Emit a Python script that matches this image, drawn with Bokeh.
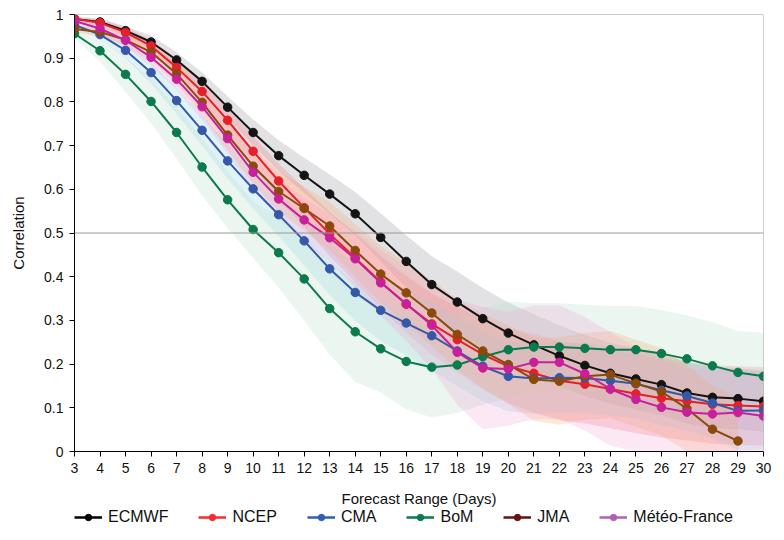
from bokeh.plotting import figure
from bokeh.layouts import column
from bokeh.models import Span, Legend, LegendItem, FixedTicker, ColumnDataSource
from bokeh.embed import file_html
from bokeh.resources import INLINE

days = list(range(3, 31))
jma_days = list(range(3, 30))

ecmwf = [0.990,0.983,0.963,0.937,0.896,0.847,0.788,0.730,0.677,0.632,0.589,0.544,0.490,0.435,0.382,0.342,0.304,0.271,0.244,0.219,0.197,0.179,0.166,0.153,0.134,0.124,0.121,0.115]
ncep = [0.990,0.981,0.959,0.928,0.879,0.824,0.758,0.687,0.619,0.558,0.498,0.443,0.388,0.337,0.292,0.256,0.222,0.195,0.179,0.162,0.154,0.143,0.132,0.122,0.115,0.108,0.105,0.103]
cma = [0.976,0.954,0.918,0.867,0.803,0.735,0.665,0.601,0.542,0.482,0.418,0.364,0.323,0.294,0.265,0.230,0.195,0.172,0.167,0.169,0.168,0.162,0.155,0.140,0.127,0.111,0.093,0.094]
bom = [0.956,0.917,0.863,0.801,0.730,0.651,0.576,0.508,0.455,0.395,0.327,0.274,0.235,0.206,0.193,0.198,0.217,0.233,0.239,0.239,0.236,0.233,0.233,0.224,0.212,0.196,0.181,0.172]
jma = [0.967,0.960,0.942,0.914,0.864,0.799,0.724,0.653,0.595,0.556,0.516,0.460,0.406,0.363,0.317,0.268,0.230,0.199,0.165,0.161,0.172,0.176,0.156,0.137,0.098,0.051,0.024]
mf = [0.985,0.968,0.941,0.902,0.852,0.789,0.716,0.639,0.578,0.530,0.489,0.441,0.386,0.338,0.289,0.227,0.191,0.189,0.204,0.204,0.178,0.143,0.119,0.101,0.090,0.086,0.089,0.081]

ecmwf_hi = [0.995,0.991,0.973,0.952,0.914,0.867,0.813,0.760,0.712,0.672,0.634,0.594,0.545,0.495,0.447,0.412,0.374,0.341,0.314,0.289,0.267,0.249,0.236,0.223,0.204,0.194,0.191,0.185]
ecmwf_lo = [0.985,0.975,0.953,0.922,0.878,0.827,0.763,0.700,0.642,0.592,0.544,0.494,0.435,0.375,0.317,0.272,0.234,0.201,0.174,0.149,0.127,0.109,0.096,0.083,0.064,0.054,0.051,0.045]
ncep_hi = [0.995,0.989,0.971,0.943,0.899,0.849,0.788,0.722,0.659,0.603,0.548,0.498,0.448,0.402,0.362,0.331,0.302,0.280,0.269,0.252,0.244,0.233,0.222,0.212,0.205,0.198,0.195,0.193]
ncep_lo = [0.985,0.973,0.947,0.913,0.859,0.799,0.728,0.652,0.579,0.513,0.448,0.388,0.328,0.272,0.222,0.181,0.142,0.110,0.089,0.072,0.064,0.053,0.042,0.032,0.025,0.018,0.015,0.013]
cma_hi = [0.984,0.966,0.936,0.892,0.833,0.770,0.705,0.646,0.592,0.537,0.478,0.429,0.393,0.369,0.345,0.310,0.275,0.252,0.247,0.249,0.248,0.242,0.235,0.220,0.207,0.191,0.183,0.184]
cma_lo = [0.968,0.942,0.900,0.842,0.773,0.700,0.625,0.556,0.492,0.427,0.358,0.299,0.253,0.219,0.185,0.150,0.115,0.092,0.087,0.089,0.088,0.082,0.075,0.060,0.047,0.031,0.003,0.004]
bom_hi = [0.966,0.942,0.903,0.851,0.790,0.716,0.641,0.573,0.535,0.490,0.432,0.389,0.335,0.316,0.308,0.308,0.327,0.343,0.339,0.339,0.336,0.333,0.333,0.324,0.312,0.296,0.276,0.272]
bom_lo = [0.946,0.892,0.823,0.751,0.670,0.586,0.511,0.443,0.375,0.300,0.222,0.159,0.135,0.096,0.078,0.088,0.107,0.123,0.139,0.139,0.136,0.133,0.133,0.124,0.112,0.096,0.086,0.072]
jma_hi = [0.975,0.970,0.957,0.934,0.889,0.829,0.759,0.693,0.640,0.606,0.571,0.520,0.471,0.433,0.392,0.348,0.315,0.289,0.260,0.261,0.272,0.276,0.256,0.237,0.198,0.151,0.124]
jma_lo = [0.959,0.950,0.927,0.894,0.839,0.769,0.689,0.613,0.550,0.506,0.461,0.400,0.341,0.293,0.242,0.188,0.145,0.109,0.070,0.061,0.072,0.076,0.056,0.037,0.0,0.0,0.0]
mf_hi = [0.993,0.980,0.956,0.922,0.877,0.819,0.751,0.679,0.623,0.580,0.544,0.506,0.461,0.423,0.389,0.347,0.331,0.319,0.334,0.334,0.308,0.273,0.239,0.211,0.190,0.186,0.189,0.181]
mf_lo = [0.977,0.956,0.926,0.882,0.827,0.759,0.681,0.599,0.533,0.480,0.434,0.376,0.311,0.253,0.189,0.107,0.051,0.059,0.074,0.074,0.048,0.013,0.0,0.0,0.0,0.0,0.0,0.0]

models = ["ECMWF", "NCEP", "CMA", "BoM", "JMA", "Météo-France"]
y_ticks = [0, 0.1, 0.2, 0.3, 0.4, 0.5, 0.6, 0.7, 0.8, 0.9, 1]
y_tick_labels = ["0", "0.1", "0.2", "0.3", "0.4", "0.5", "0.6", "0.7", "0.8", "0.9", "1"]

series = [
    (days, ecmwf, ecmwf_lo, ecmwf_hi, "#141414", "#b9b9be", 0.42, "#000000"),
    (days, ncep, ncep_lo, ncep_hi, "#e5202a", "#f07a80", 0.28, "#ee3030"),
    (days, cma, cma_lo, cma_hi, "#3558a8", "#8fd0ee", 0.28, "#2e5fb0"),
    (days, bom, bom_lo, bom_hi, "#0b7a4c", "#bfe3cc", 0.32, "#0b7a4c"),
    (jma_days, jma, jma_lo, jma_hi, "#8a4a0c", "#f5a860", 0.25, "#6a1010"),
    (days, mf, mf_lo, mf_hi, "#c8209a", "#f2a0d2", 0.25, "#b060b0"),
]

FONT = "Liberation Sans"

p = figure(frame_width=689, frame_height=437, x_range=(3, 30), y_range=(0, 1),
           output_backend="svg", toolbar_location=None,
           min_border_left=74, min_border_right=15, min_border_top=14, min_border_bottom=10)
p.outline_line_color = None
p.xgrid.visible = False
p.ygrid.visible = False

for xs, ys, lo, hi, lc, bc, ba, legc in series:
    p.varea(x=xs, y1=lo, y2=hi, fill_color=bc, fill_alpha=ba)

for sp in [Span(location=0.5, dimension="width"), Span(location=1, dimension="width"),
           Span(location=30, dimension="height")]:
    sp.line_color = "#9a9a9a"
    sp.line_width = 1
    p.add_layout(sp)

for xs, ys, lo, hi, lc, bc, ba, legc in series:
    p.line(xs, ys, line_color=lc, line_width=2)
    p.scatter(xs, ys, size=8.5, fill_color=lc, line_color=lc)

p.xaxis.ticker = FixedTicker(ticks=days)
p.yaxis.ticker = FixedTicker(ticks=y_ticks)
p.yaxis.major_label_overrides = {t: l for t, l in zip(y_ticks, y_tick_labels)}
p.xaxis.axis_label = "Forecast Range (Days)"
p.yaxis.axis_label = "Correlation"
for ax in (p.xaxis, p.yaxis):
    ax.axis_line_color = "#000000"
    ax.major_tick_line_color = "#000000"
    ax.major_tick_out = 5
    ax.major_tick_in = 0
    ax.minor_tick_line_color = None
    ax.major_label_text_font = FONT
    ax.major_label_text_font_size = "14px"
    ax.major_label_text_color = "#111111"
    ax.axis_label_text_font = FONT
    ax.axis_label_text_font_size = "15px"
    ax.axis_label_text_font_style = "normal"
    ax.axis_label_text_color = "#111111"
p.xaxis.major_label_standoff = 6
p.xaxis.axis_label_standoff = 14
p.yaxis.major_label_standoff = 6
p.yaxis.axis_label_standoff = 14

# legend strip below the chart
lg = figure(width=778, height=22, x_range=(0, 1), y_range=(0, 1),
            output_backend="svg", toolbar_location=None,
            x_axis_location=None, y_axis_location=None,
            min_border_left=0, min_border_right=0, min_border_top=0, min_border_bottom=0)
lg.outline_line_color = None
lg.xgrid.visible = False
lg.ygrid.visible = False

items = []
for name, s in zip(models, series):
    legc = s[7]
    src = ColumnDataSource(dict(x=[5], y=[5]))  # off-range: only the legend swatch shows
    r1 = lg.line("x", "y", source=src, line_color=legc, line_width=2.5)
    r2 = lg.scatter("x", "y", source=src, size=7, fill_color=legc, line_color=legc)
    items.append(LegendItem(label=name, renderers=[r1, r2]))

legend = Legend(items=items, orientation="horizontal", location=(0, 5),
                label_text_font=FONT, label_text_font_size="16px", label_text_color="#111111",
                glyph_width=28, glyph_height=16, spacing=30, padding=0, margin=0,
                label_standoff=6, label_height=16, border_line_color=None,
                background_fill_alpha=0)
lg.add_layout(legend, "center")

layout = column(p, lg, spacing=0)
open("out.html", "w").write(file_html(layout, INLINE))
